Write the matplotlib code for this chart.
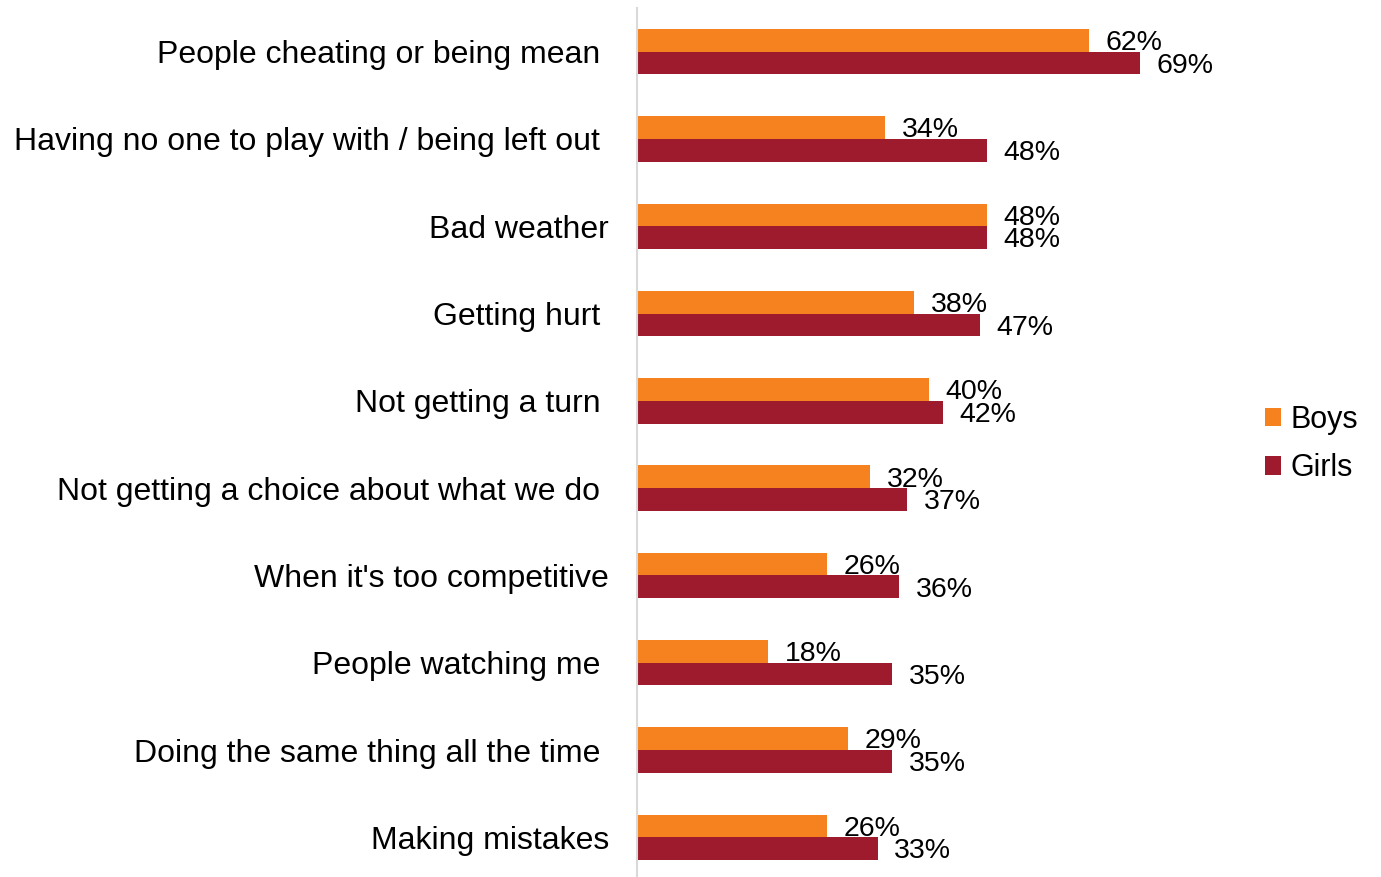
import matplotlib.pyplot as plt
import numpy as np

plt.rcParams['font.family'] = ['Liberation Sans', 'DejaVu Sans']

# reasons children gave for not enjoying playtime
categories = ["People cheating or being mean ",
              "Having no one to play with / being left out ",
              "Bad weather",
              "Getting hurt ",
              "Not getting a turn ",
              "Not getting a choice about what we do ",
              "When it's too competitive",
              "People watching me ",
              "Doing the same thing all the time ",
              "Making mistakes"]
boys = [62, 34, 48, 38, 40, 32, 26, 18, 29, 26]
girls = [69, 48, 48, 47, 42, 37, 36, 35, 35, 33]

boys_color = "#F5821F"
girls_color = "#9E1B2E"

fig = plt.figure(figsize=(13.81, 8.77), dpi=100)
ax = fig.add_axes([637 / 1381, -4 / 877, 729 / 1381, 873 / 877])

y = np.arange(len(categories))
h = 0.26
ax.barh(y - h / 2, boys, height=h, color=boys_color, label="Boys")
ax.barh(y + h / 2, girls, height=h, color=girls_color, label="Girls")

# percentage labels just past the end of each bar
for i in range(len(categories)):
    ax.annotate(f"{boys[i]}%", (boys[i], y[i] - h / 2), xytext=(12, -2),
                textcoords="offset points", va="center", ha="left", fontsize=20.5)
    ax.annotate(f"{girls[i]}%", (girls[i], y[i] + h / 2), xytext=(12, -2),
                textcoords="offset points", va="center", ha="left", fontsize=20.5)

ax.set_xlim(0, 100)
ax.set_ylim(len(categories) - 0.5, -0.5)
ax.set_yticks(y)
ax.set_yticklabels(categories, fontsize=23)
ax.tick_params(axis="y", length=0, pad=20)
ax.set_xticks([])
for s in ["top", "right", "bottom"]:
    ax.spines[s].set_visible(False)
ax.spines["left"].set_color("#D9D9D9")
ax.spines["left"].set_linewidth(1.5)

fig.legend(loc="center left", bbox_to_anchor=(1237 / 1381, 1 - 444 / 877),
           frameon=False, fontsize=22, handlelength=0.55, handleheight=0.55,
           handletextpad=0.3, labelspacing=0.6)

fig.savefig("out.png", dpi=100)
